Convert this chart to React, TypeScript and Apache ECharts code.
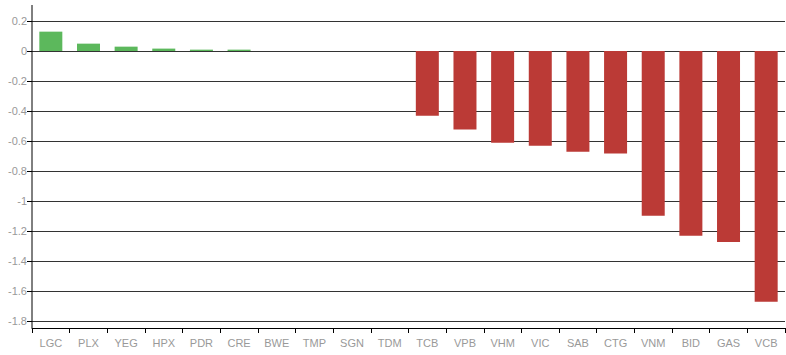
import React, { useEffect, useRef } from "react";
import * as echarts from "echarts";

const categories = ["LGC", "PLX", "YEG", "HPX", "PDR", "CRE", "BWE", "TMP", "SGN", "TDM", "TCB", "VPB", "VHM", "VIC", "SAB", "CTG", "VNM", "BID", "GAS", "VCB"];
const values = [0.129, 0.049, 0.029, 0.016, 0.009, 0.009, 0, 0, 0, 0, -0.431, -0.524, -0.611, -0.631, -0.671, -0.684, -1.098, -1.231, -1.273, -1.672];
const yTicks = { min: -1.8, max: 0.2, interval: 0.2 };

const GREEN = "#5cb85c";
const RED = "#bb3a36";
const FONT = "'Liberation Sans', Arial, sans-serif";

export default function App() {
  const ref = useRef<HTMLDivElement>(null);
  useEffect(() => {
    if (!ref.current) return;
    const chart = echarts.init(ref.current, undefined, { renderer: "svg" });
    chart.setOption({
      animation: false,
      grid: { left: 32, right: 1, top: 21, bottom: 34, containLabel: false },
      xAxis: {
        type: "category",
        data: categories,
        offset: 7,
        axisLine: { show: true, onZero: false, lineStyle: { color: "#000", width: 1 } },
        axisTick: { show: true, length: 5, lineStyle: { color: "#000" } },
        axisLabel: { color: "#999", fontSize: 11, fontFamily: FONT, margin: 9, interval: 0 },
        splitLine: { show: false },
      },
      yAxis: {
        type: "value",
        min: yTicks.min,
        max: yTicks.max,
        interval: yTicks.interval,
        axisLine: { show: false },
        axisTick: { show: true, length: 5, lineStyle: { color: "#000" } },
        axisLabel: {
          color: "#999",
          fontSize: 11,
          fontFamily: FONT,
          margin: 5,
          formatter: (v: number) => {
            const r = Math.round(v * 10) / 10;
            return r === 0 ? "0" : String(r);
          },
        },
        splitLine: { show: true, lineStyle: { color: "#333", width: 1 } },
      },
      graphic: [
        {
          type: "line",
          shape: { x1: 32, y1: 5, x2: 32, y2: 328 },
          style: { stroke: "#000", lineWidth: 1 },
          z: 100,
        },
      ],
      series: [
        {
          type: "bar",
          data: values.map((v) => ({ value: v, itemStyle: { color: v >= 0 ? GREEN : RED } })),
          barWidth: 23,
        },
      ],
    });
    return () => chart.dispose();
  }, []);
  return <div ref={ref} style={{ position: "absolute", left: 0, top: 0, width: 786, height: 355 }} />;
}
